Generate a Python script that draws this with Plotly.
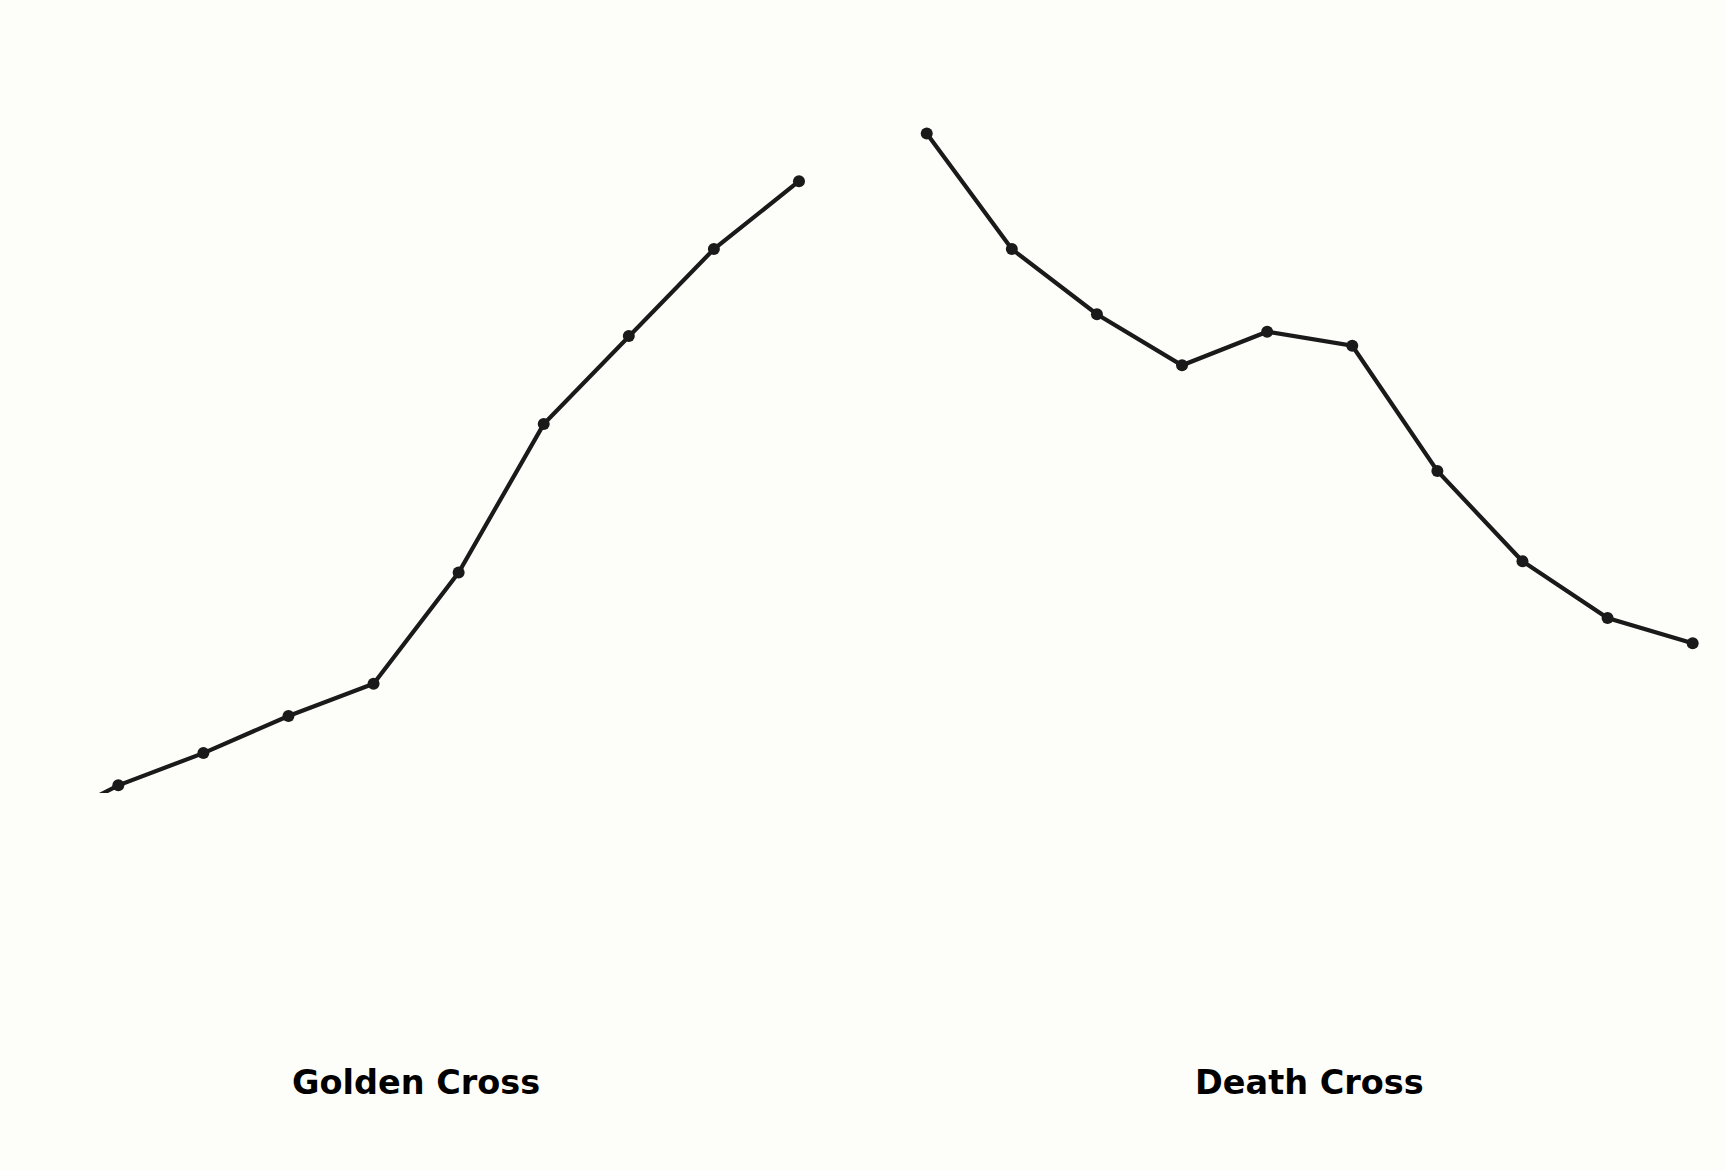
import plotly.graph_objects as go

# Data (arbitrary price-like units, no visible axis)
golden_x = [0, 1, 2, 3, 4, 5, 6, 7, 8, 9]
golden_y = [-5.2, 1.1, 5.7, 11.0, 15.6, 31.5, 52.7, 65.3, 77.7, 87.4]

death_x = [0, 1, 2, 3, 4, 5, 6, 7, 8, 9]
death_y = [94.2, 77.7, 68.4, 61.1, 65.9, 63.9, 46.0, 33.1, 25.0, 21.4]

labels = ["Golden Cross", "Death Cross"]

BG = "#fdfdf9"
LINE = "#1a1a1a"

fig = go.Figure()
fig.add_trace(go.Scatter(x=golden_x, y=golden_y, mode="lines+markers",
                         line=dict(color=LINE, width=4.2),
                         marker=dict(color=LINE, size=12),
                         xaxis="x", yaxis="y", showlegend=False))
fig.add_trace(go.Scatter(x=death_x, y=death_y, mode="lines+markers",
                         line=dict(color=LINE, width=4.2),
                         marker=dict(color=LINE, size=12),
                         xaxis="x2", yaxis="y2", showlegend=False))

W, H = 1725, 1170
ydom = [1 - 793 / H, 1 - 93 / H]

axis_common = dict(visible=False, showgrid=False, zeroline=False, fixedrange=True)

fig.update_layout(
    width=W, height=H,
    margin=dict(l=0, r=0, t=0, b=0),
    paper_bgcolor=BG, plot_bgcolor=BG,
    xaxis=dict(domain=[7.7 / W, 824.5 / W], range=[-0.3, 9.3], **axis_common),
    yaxis=dict(domain=ydom, range=[0, 100], anchor="x", **axis_common),
    xaxis2=dict(domain=[901.2 / W, 1718.2 / W], range=[-0.3, 9.3], anchor="y2", **axis_common),
    yaxis2=dict(domain=ydom, range=[0, 100], anchor="x2", **axis_common),
)

label_y = 1 - 1082.5 / H
for cx, txt in zip([416 / W, 1309.7 / W], labels):
    fig.add_annotation(x=cx, y=label_y, xref="paper", yref="paper",
                       text=f"<b>{txt}</b>", showarrow=False,
                       xanchor="center", yanchor="middle",
                       font=dict(family="DejaVu Sans", size=33.5, color="#000000"))

fig.write_html(
    "out.html",
    config={"displayModeBar": False},
    post_script="document.body.style.margin='0';document.body.style.overflow='hidden';"
                "document.body.style.background='" + BG + "';",
)
